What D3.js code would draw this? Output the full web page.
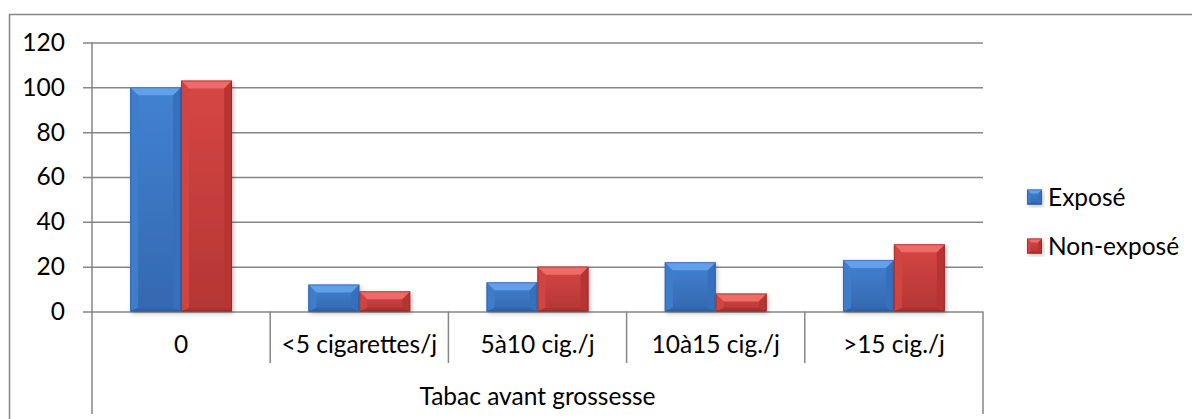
<!DOCTYPE html>
<html>
<head>
<meta charset="utf-8">
<script src="https://cdn.jsdelivr.net/npm/d3@7"></script>
<style>
  html, body { margin: 0; padding: 0; background: #fff; }
  svg { display: block; }
  text { font-family: Lato, "Open Sans", sans-serif; fill: #000; }
</style>
</head>
<body>
<svg id="chart" width="1192" height="419"></svg>
<script>
// Tabac avant grossesse: number of mothers per smoking level, exposed vs non-exposed
const categories = ["0", "<5 cigarettes/j", "5à10 cig./j", "10à15 cig./j", ">15 cig./j"];
const seriesNames = ["Exposé", "Non-exposé"];
const expose    = [100, 12, 13, 22, 23];
const nonExpose = [103,  9, 20,  8, 30];
const yTicks = [0, 20, 40, 60, 80, 100, 120];
const groupLabel = "Tabac avant grossesse";

const svg = d3.select("#chart");
const grey = "#868686";
const fontSize = 24.5;
const fontFamily = "Lato, 'Open Sans', sans-serif";

// frame around the chart area
svg.append("rect")
  .attr("x", 9.5).attr("y", 14.5)
  .attr("width", 1200).attr("height", 430)
  .attr("fill", "none").attr("stroke", grey).attr("stroke-width", 1.5);

const plot = { left: 92, right: 983, top: 42.5, bottom: 311.5 };

const x = d3.scaleBand().domain(categories).range([plot.left, plot.right]).padding(0);
const y = d3.scaleLinear().domain([0, 120]).range([plot.bottom, plot.top]);

// bar geometry: gap width 150% of a bar
const barW = x.bandwidth() / (seriesNames.length + 1.5);
const xs = d3.scaleBand().domain(seriesNames)
  .range([(x.bandwidth() - barW * 2) / 2, (x.bandwidth() + barW * 2) / 2]).padding(0);

// horizontal gridlines with their outer tick marks
const grid = svg.append("g")
  .attr("transform", `translate(${plot.right},0)`)
  .call(d3.axisLeft(y).tickValues(yTicks).tickSize(plot.right - plot.left + 9).tickFormat(""));
grid.select(".domain").remove();
grid.selectAll(".tick line").attr("stroke", grey).attr("stroke-width", 1.5);

// y tick labels
const yAxis = svg.append("g")
  .attr("transform", `translate(${plot.left},0)`)
  .call(d3.axisLeft(y).tickValues(yTicks).tickSize(0).tickPadding(27));
yAxis.select(".domain").remove();
yAxis.selectAll("text")
  .attr("font-size", fontSize).attr("font-family", fontFamily)
  .attr("fill", "#000");

// vertical axis line spanning the two category label rows
svg.append("line")
  .attr("x1", plot.left).attr("x2", plot.left)
  .attr("y1", plot.top).attr("y2", 414)
  .attr("stroke", grey).attr("stroke-width", 1.5);
svg.append("line")
  .attr("x1", plot.right).attr("x2", plot.right)
  .attr("y1", plot.bottom).attr("y2", 414)
  .attr("stroke", grey).attr("stroke-width", 1.5);

// category separators
svg.append("g").selectAll("line")
  .data(categories.slice(1))
  .join("line")
  .attr("x1", d => x(d)).attr("x2", d => x(d))
  .attr("y1", plot.bottom).attr("y2", 363)
  .attr("stroke", grey).attr("stroke-width", 1.5);

// category labels
const xAxis = svg.append("g")
  .attr("transform", `translate(0,${plot.bottom})`)
  .call(d3.axisBottom(x).tickSize(0).tickPadding(24));
xAxis.select(".domain").remove();
xAxis.selectAll("text")
  .attr("font-size", fontSize).attr("font-family", fontFamily)
  .attr("fill", "#000");

// group label under the categories
svg.append("text")
  .attr("x", (plot.left + plot.right) / 2).attr("y", 405)
  .attr("text-anchor", "middle")
  .attr("font-size", fontSize)
  .text(groupLabel);

// colours and bevel shading
const palette = {
  "Exposé":     { top: "#4182d2", bottom: "#3468b0", light: "#62a0ea", side: "#3f7dcb", dark: "#3670bd", base: "#3163a8", edge: "#24508c" },
  "Non-exposé": { top: "#d64644", bottom: "#b43634", light: "#ee6b68", side: "#d04442", dark: "#b83432", base: "#a83231", edge: "#7a1d1c" }
};

const defs = svg.append("defs");
seriesNames.forEach((s, i) => {
  const g = defs.append("linearGradient").attr("id", "face" + i)
    .attr("x1", 0).attr("y1", 0).attr("x2", 0).attr("y2", 1);
  g.append("stop").attr("offset", "0%").attr("stop-color", palette[s].top);
  g.append("stop").attr("offset", "100%").attr("stop-color", palette[s].bottom);
});
const shadow = defs.append("filter").attr("id", "shadow")
  .attr("x", "-20%").attr("y", "-20%").attr("width", "140%").attr("height", "140%");
shadow.append("feDropShadow").attr("dx", 1.5).attr("dy", 2).attr("stdDeviation", 2)
  .attr("flood-color", "#000").attr("flood-opacity", 0.25);

function bevelBar(sel, bx, by, w, h, s, idx, b0) {
  const c = palette[s];
  const b = Math.min(b0, h / 2, w / 2);
  const bb = Math.min(b0 * 0.45, h / 4);
  const g = sel.append("g");
  g.append("rect").attr("x", bx).attr("y", by).attr("width", w).attr("height", h)
    .attr("fill", `url(#face${idx})`).attr("filter", "url(#shadow)");
  const poly = (pts, fill) => g.append("polygon")
    .attr("points", pts.map(p => p.join(",")).join(" ")).attr("fill", fill);
  poly([[bx, by], [bx + b, by + b], [bx + b, by + h - bb], [bx, by + h]], c.side);
  poly([[bx + w, by], [bx + w, by + h], [bx + w - b, by + h - bb], [bx + w - b, by + b]], c.dark);
  poly([[bx, by + h], [bx + b, by + h - bb], [bx + w - b, by + h - bb], [bx + w, by + h]], c.base);
  poly([[bx, by], [bx + w, by], [bx + w - b, by + b], [bx + b, by + b]], c.light);
  g.append("rect").attr("x", bx + 0.5).attr("y", by + 0.5).attr("width", w - 1).attr("height", h - 1)
    .attr("fill", "none").attr("stroke", c.edge).attr("stroke-opacity", 0.45);
}

const rows = categories.map((c, i) => ({ cat: c, vals: [expose[i], nonExpose[i]] }));
const bars = svg.append("g");
rows.forEach(r => {
  r.vals.forEach((v, k) => {
    const s = seriesNames[k];
    const bx = x(r.cat) + xs(s);
    bevelBar(bars, bx, y(v), xs.bandwidth(), y(0) - y(v), s, k, 8);
  });
});

// legend
const legend = svg.append("g");
seriesNames.forEach((s, k) => {
  const ly = 197 + k * 49;
  bevelBar(legend, 1027, ly - 7.5, 15, 15, s, k, 4);
  legend.append("text")
    .attr("x", 1048).attr("y", ly)
    .attr("dy", "0.35em")
    .attr("font-size", fontSize)
    .text(s);
});
</script>
</body>
</html>
